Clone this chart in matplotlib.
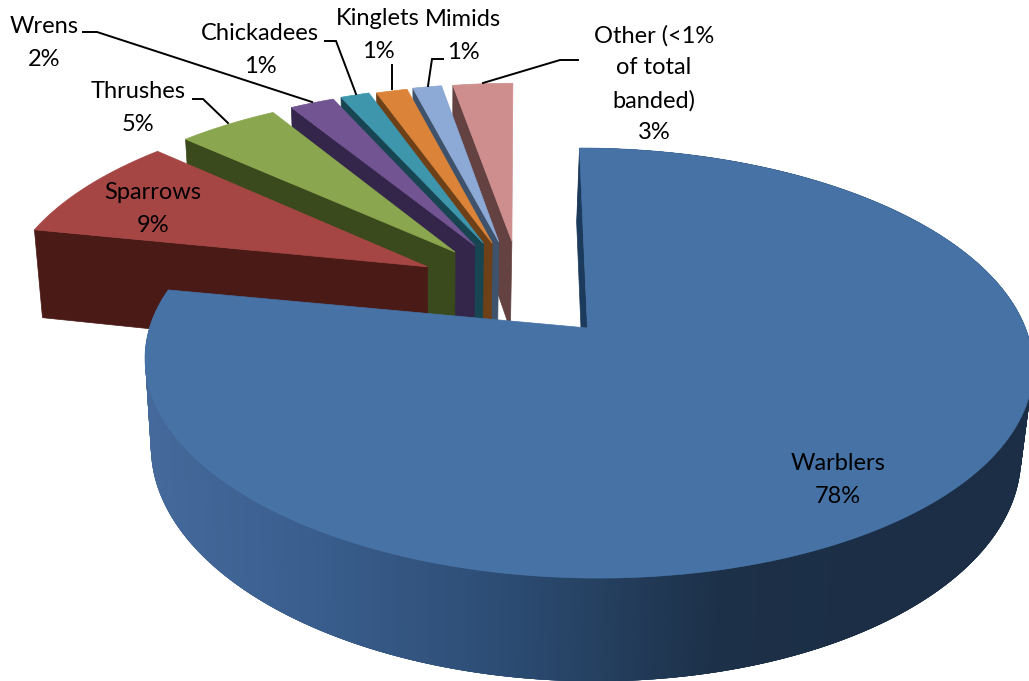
import numpy as np
import matplotlib
matplotlib.use('Agg')
import matplotlib.pyplot as plt
from matplotlib.colors import LinearSegmentedColormap

plt.rcParams['font.family'] = ['Lato', 'DejaVu Sans']

# shares (labels are rounded, angles say a bit more)
names = ['Warblers', 'Sparrows', 'Thrushes', 'Wrens', 'Chickadees', 'Kinglets', 'Mimids', 'Other (<1%\nof total\nbanded)']
shares = [78.0, 8.5, 4.5, 2.0, 1.3, 1.4, 1.3, 2.7]
pct_labels = ['78%', '9%', '5%', '2%', '1%', '1%', '1%', '3%']

top_colors = ['#4672A6', '#A64644', '#8AA64E', '#735492', '#3E96AD', '#DB8439', '#8DA9D6', '#CE8E8E']
wall_colors = ['#1C3048', '#4A1A16', '#3A4A1C', '#33264A', '#174552', '#6D4018', '#3F526B', '#634241']

# explosion of each slice: direction (deg, clockwise from top)
explode_r = [0, 0.49, 0.50, 0.50, 0.50, 0.49, 0.49, 0.48]
explode_dir = [0, 308.8, 320.5, 327.2, 330.0, 332.2, 334.3, 337.9]
small_rot = 0.8
small_dx = 2
small_depth = 1.1

# perspective of the disc, in pixels
cx, cy = 587.5, 328
a, b, k, skew, depth = 438, 209.3, 0.163, 9.3, 86.5


def project(u, v):
    w = 1 - k * v
    return cx + (a * u + skew * v) / w, cy + b * v / w


def extrude(x, y, v, scale=1.0):
    w = 1 - k * v
    return x - (x - cx) * 0.02 - 3, y + scale * depth / w


def slice_xy(t0, t1, r, d):
    th = np.radians(np.linspace(t0, t1, 200))
    du = r * np.sin(np.radians(d))
    dv = -r * np.cos(np.radians(d))
    u = np.r_[du, du + np.sin(th)]
    v = np.r_[dv, dv - np.cos(th)]
    x, y = project(u, v)
    return x, y, v


fig = plt.figure(figsize=(10.29, 6.81), dpi=100)
ax = fig.add_axes([0, 0, 1, 1])
ax.set_xlim(0, 1029)
ax.set_ylim(681, 0)
ax.axis('off')

edges = np.r_[0, np.cumsum(shares)] * 3.6

# small exploded slices, back to front
for i in range(len(shares) - 1, 0, -1):
    x, y, v = slice_xy(edges[i] + small_rot, edges[i + 1] + small_rot, explode_r[i], explode_dir[i])
    x = x + small_dx
    ex, ey = extrude(x, y, v, small_depth)
    # the cut face that looks at us runs from the apex to the start corner
    wx = [x[1], x[0], ex[0], ex[1]]
    wy = [y[1], y[0], ey[0], ey[1]]
    ax.fill(wx, wy, color=wall_colors[i], lw=0.5)
    ax.fill(x, y, color=top_colors[i], lw=0.5)

# big slice: outer wall as thin shaded strips, overlapped so no seams show
wall_cmap = LinearSegmentedColormap.from_list(
    'wall', [(0, '#44699A'), (0.2, '#3B6090'), (0.5, '#2C4C73'), (0.8, '#1C3048'), (1, '#1B2E46')])
th = np.radians(np.linspace(edges[0], edges[1], 400))
u, v = np.sin(th), -np.cos(th)
x, y = project(u, v)
ex, ey = extrude(x, y, v)
for j in range(len(th) - 4):
    shade = np.clip((x[j] - 150) / 720, 0, 1)
    ax.fill([x[j], x[j + 4], ex[j + 4], ex[j]], [y[j], y[j + 4], ey[j + 4], ey[j]],
            color=wall_cmap(shade), lw=0)

x, y, v = slice_xy(edges[0], edges[1], 0, 0)
ex, ey = extrude(x, y, v)
ax.fill([x[0], x[1], ex[1], ex[0]], [y[0], y[1], ey[1], ey[0]], color='#1C3A5C', lw=0.5)
ax.fill(x, y, color=top_colors[0], lw=0.5)

# leader lines
leaders = [
    ([83, 97, 312], [32, 32, 102]),
    ([325, 336, 356], [41, 41, 94]),
    ([392, 392], [65, 89]),
    ([443, 432, 428], [59, 59, 86]),
    ([483, 560, 578], [83, 60, 60]),
    ([193, 203, 228], [99, 99, 123]),
]
for lx, ly in leaders:
    ax.plot(lx, ly, color='black', lw=1.4, solid_joinstyle='miter')

# label centres
label_pos = [(838, 480), (153, 209), (138, 108), (44, 43), (260, 50), (378, 35), (463, 36), (654, 84)]
for name, pct, (px, py) in zip(names, pct_labels, label_pos):
    ax.text(px, py, name + '\n' + pct, ha='center', va='center', fontsize=17,
            color='black', linespacing=1.65)

fig.savefig('out.png', dpi=100)
